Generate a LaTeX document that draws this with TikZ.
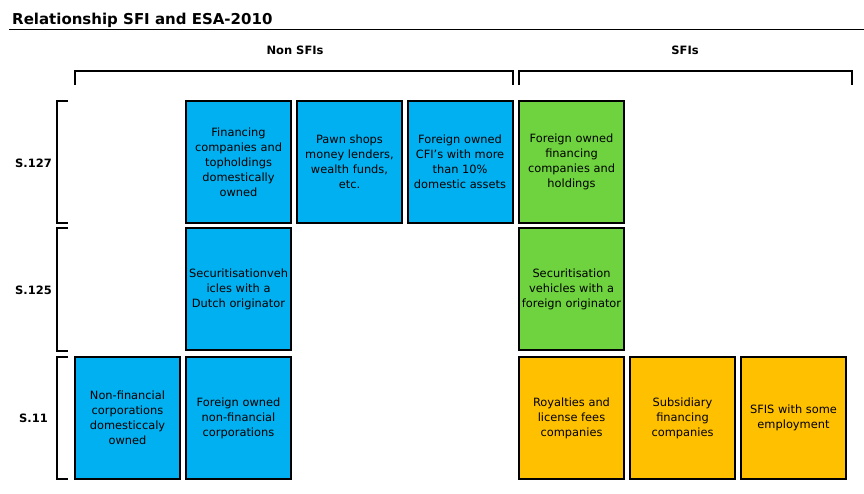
\documentclass[tikz,border=0pt]{standalone}
\usepackage{fontspec}
\setmainfont{DejaVu Sans}

\definecolor{nonblue}{HTML}{00B0F0}
\definecolor{sfigreen}{HTML}{6FD23F}
\definecolor{sfiorange}{HTML}{FFC000}

\tikzset{
	cell/.style={draw=black, line width=2pt, minimum width=105pt, minimum height=122pt,
		inner sep=0pt, align=center,
		font=\fontsize{11.4}{15}\selectfont},
	nonsfi/.style={cell, fill=nonblue},
	sfigreen/.style={cell, fill=sfigreen},
	sfiorange/.style={cell, fill=sfiorange},
	grouplabel/.style={font=\bfseries\fontsize{11.5}{13}\selectfont},
	brk/.style={line width=1.6pt}
}

\begin{document}
\begin{tikzpicture}[x=1pt, y=-1pt]
		\useasboundingbox (0,0) rectangle (864,494);

		% title
		\node[anchor=base west, inner sep=0pt, font=\bfseries\fontsize{15}{18}\selectfont] (title) at (12,25) {Relationship SFI and ESA-2010};
		\draw[line width=1.4pt] (9,29.5) -- (864,29.5);

		% groups on top
		\node[grouplabel] (nonsfis) at (295,50) {Non SFIs};
		\node[grouplabel] (sfis) at (685,50) {SFIs};
		\draw[brk] (75,85) -- (75,71) -- (513,71) -- (513,85);
		\draw[brk] (519,85) -- (519,71) -- (852,71) -- (852,85);

		% sectors on the left
		\node[grouplabel] (s127) at (33.5,163) {S.127};
		\node[grouplabel] (s125) at (33.5,290) {S.125};
		\node[grouplabel] (s11) at (33.5,418) {S.11};
		\draw[brk] (68,101) -- (57,101) -- (57,223) -- (68,223);
		\draw[brk] (68,228) -- (57,228) -- (57,351) -- (68,351);
		\draw[brk] (68,357) -- (57,357) -- (57,479) -- (68,479);

		% S.127
		\node[nonsfi] (fincomp) at (238.5,162) {Financing\\companies and\\topholdings\\domestically\\owned};
		\node[nonsfi] (pawn) at (349.5,162) {Pawn shops\\money lenders,\\wealth funds,\\etc.};
		\node[nonsfi] (foreigncfi) at (460,162) {Foreign owned\\CFI's with more\\than 10\%\\domestic assets};
		\node[sfigreen] (foreignfin) at (571.5,162) {Foreign owned\\financing\\companies and\\holdings};

		% S.125
		\node[nonsfi] (secdutch) at (238.5,289) {Securitisationveh\\icles with a\\Dutch originator};
		\node[sfigreen] (secforeign) at (571.5,289) {Securitisation\\vehicles with a\\foreign originator};

		% S.11
		\node[nonsfi] (nfcdom) at (127.5,418) {Non-financial\\corporations\\domesticcaly\\owned};
		\node[nonsfi] (nfcforeign) at (238.5,418) {Foreign owned\\non-financial\\corporations};
		\node[sfiorange] (royalties) at (571.5,418) {Royalties and\\license fees\\companies};
		\node[sfiorange] (subsid) at (682.5,418) {Subsidiary\\financing\\companies};
		\node[sfiorange] (employ) at (793.5,418) {SFIS with some\\employment};

	\end{tikzpicture}
\end{document}
